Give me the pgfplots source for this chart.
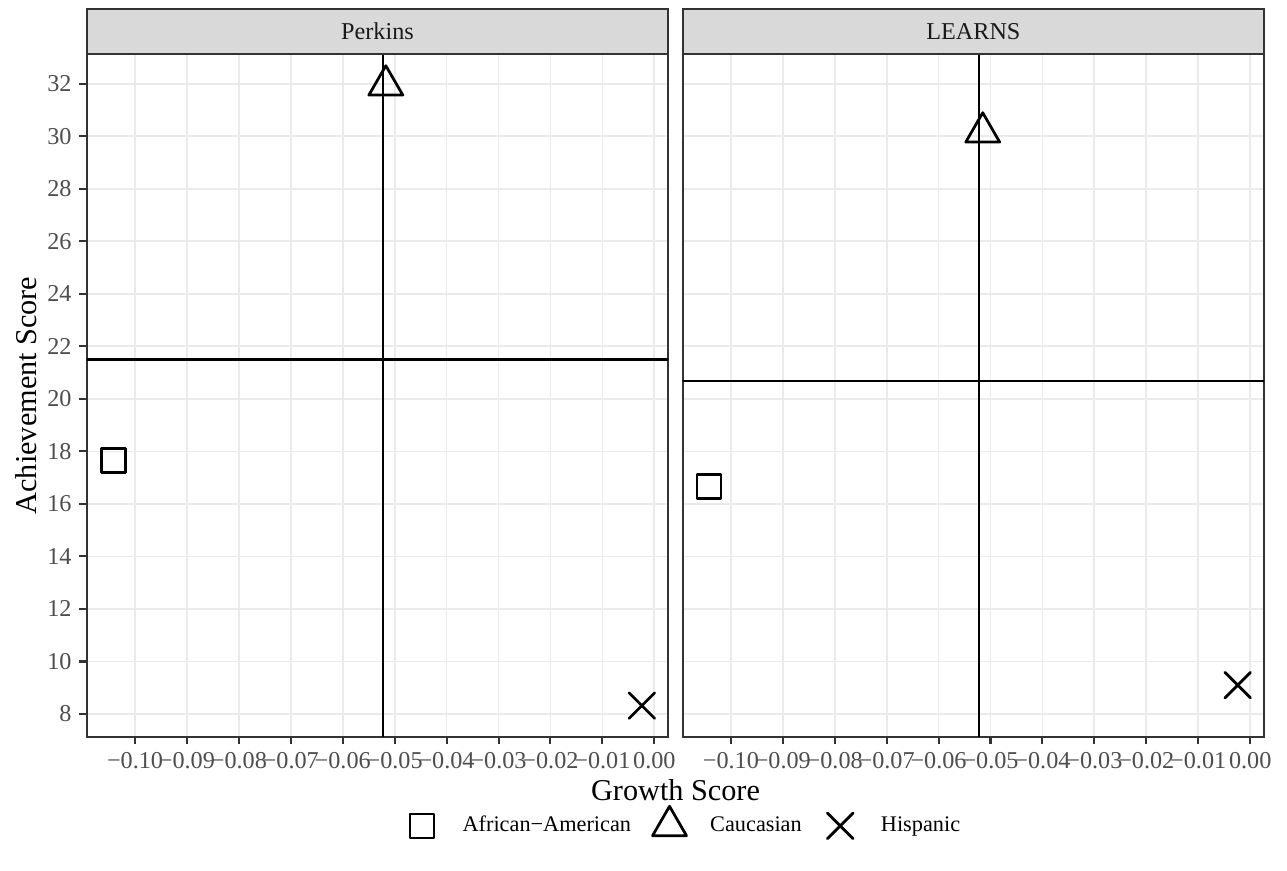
\documentclass[border=0pt]{standalone}
\usepackage{fontspec}
\setmainfont{Liberation Serif}
\usepackage{pgfplots}
\pgfplotsset{compat=1.18}

\definecolor{ggTen}{HTML}{1A1A1A}
\definecolor{ggTwenty}{HTML}{333333}
\definecolor{ggThirty}{HTML}{4D4D4D}
\definecolor{ggStrip}{HTML}{D9D9D9}
\definecolor{ggGrid}{HTML}{EBEBEB}

\pgfplotsset{
  panel/.style={
    scale only axis, width=211.5pt, height=248.1pt, anchor=north west,
    xmin=-0.1093, xmax=0.0027, ymin=7.14, ymax=33.12,
    xtick={-0.10,-0.09,-0.08,-0.07,-0.06,-0.05,-0.04,-0.03,-0.02,-0.01,0},
    xticklabels={−0.10,−0.09,−0.08,−0.07,−0.06,−0.05,−0.04,−0.03,−0.02,−0.01,0.00},
    ytick={8,10,12,14,16,18,20,22,24,26,28,30,32},
    scaled ticks=false,
    grid=major, major grid style={draw=ggGrid, line width=0.65pt},
    axis line style={draw=ggTwenty, line width=0.75pt},
    tick style={draw=ggTwenty, line width=0.75pt},
    tick align=outside, major tick length=2.8pt, tick pos=left,
    xticklabel style={font=\fontsize{8.8}{10}\selectfont, text=ggThirty, inner sep=1pt, yshift=-1.8pt},
    yticklabel style={font=\fontsize{8.8}{10}\selectfont, text=ggThirty, inner sep=2.5pt},
    clip marker paths=false,
  },
  sq/.style={only marks, mark=square, mark size=4.36pt, line width=1pt, line join=round, black},
  tri/.style={only marks, mark=triangle, mark size=7.13pt, line width=1pt, line join=round, black},
  cross/.style={only marks, mark=x, mark size=6.58pt, line width=1pt, line cap=round, black},
  refline/.style={forget plot, black, line width=0.85pt},
}

\begin{document}
\begin{tikzpicture}
\path[use as bounding box] (0,0) rectangle (468pt,-316.4pt);

% Perkins
\begin{axis}[panel, name=L, at={(31.53pt,-19.75pt)},
  yticklabels={8,10,12,14,16,18,20,22,24,26,28,30,32},
  xlabel={Growth Score},
  xlabel style={at={(axis description cs:1.0124,-0.0781)}, anchor=center, font=\fontsize{11}{13}\selectfont},
  ylabel={Achievement Score},
  ylabel style={at={(axis description cs:-0.1035,0.5)}, anchor=center, font=\fontsize{11}{13}\selectfont},
  legend columns=-1,
  legend image code/.code={
    \path[draw=none, fill=none] (-8pt,-8pt) rectangle (8pt,8pt);
    \draw[#1] plot coordinates {(0pt,0pt)};
  },
  legend style={at={(axis description cs:1.0201,-0.1309)}, anchor=center, draw=none, fill=none,
    font=\fontsize{8.1}{10}\selectfont, nodes={inner sep=0pt},
    /tikz/every odd column/.append style={column sep=6.8pt},
    /tikz/every even column/.append style={column sep=6pt}},
]
\addplot[refline] coordinates {(-0.12,21.50) (0.01,21.50)};
\addplot[refline] coordinates {(-0.0523,5) (-0.0523,35)};
\addplot[sq] coordinates {(-0.1042,17.65)};
\addplot[tri] coordinates {(-0.0517,31.94)};
\addplot[cross] coordinates {(-0.0024,8.32)};
\legend{African−American,Caucasian,Hispanic}
\end{axis}

% LEARNS
\begin{axis}[panel, name=R, at={(248.2pt,-19.75pt)},
  yticklabels={}, ytick style={draw=none},
]
\addplot[refline] coordinates {(-0.12,20.68) (0.01,20.68)};
\addplot[refline] coordinates {(-0.0522,5) (-0.0522,35)};
\addplot[sq] coordinates {(-0.1042,16.67)};
\addplot[tri] coordinates {(-0.0515,30.15)};
\addplot[cross] coordinates {(-0.0024,9.10)};
\end{axis}

\foreach \p/\t in {L/Perkins, R/LEARNS}{
  \draw[fill=ggStrip, draw=ggTwenty, line width=0.75pt] (\p.north west) rectangle ([yshift=16.47pt]\p.north east);
  \node[font=\fontsize{8.8}{10}\selectfont, text=ggTen] at ([yshift=8.24pt]\p.north) {\t};
}
\end{tikzpicture}
\end{document}
